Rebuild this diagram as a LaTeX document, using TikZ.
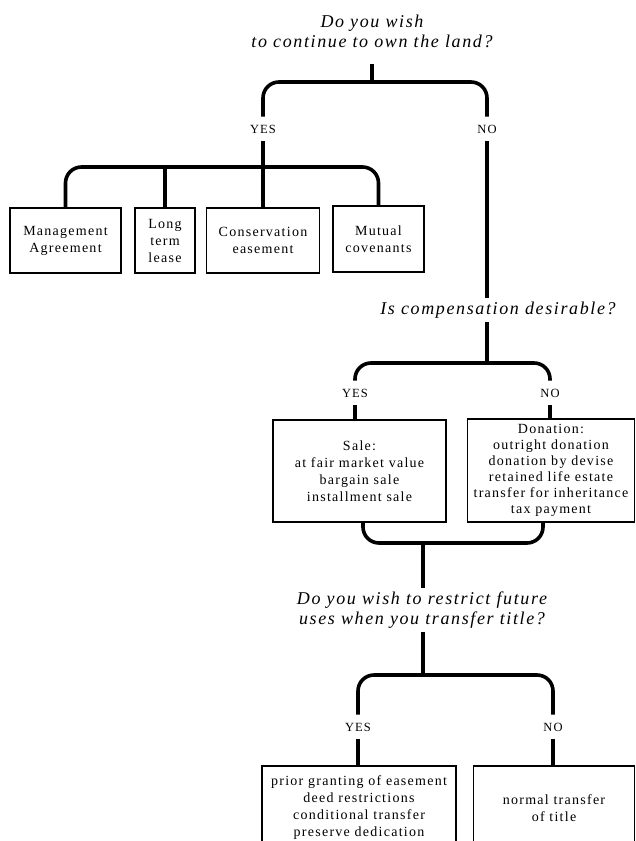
\documentclass[tikz,border=0pt]{standalone}
\usepackage{fontspec}
\setmainfont{Liberation Serif}[LetterSpace=9]

\begin{document}
\begin{tikzpicture}
[x=1pt,y=-1pt,
 quest/.style={font=\fontsize{18}{20}\selectfont\itshape,align=center,inner xsep=2pt,inner ysep=4pt},
 answer/.style={font=\fontsize{12.5}{14}\selectfont,inner xsep=2pt,inner ysep=8pt},
 box/.style={shape=rectangle,draw,line width=1.8pt,align=center,font=\fontsize{14}{17}\selectfont},
 conn/.style={line width=3.6pt,rounded corners=16pt}]

\clip (0,0) rectangle (636,841);

\draw (372,31) node (q1) [quest,inner ysep=16pt] {Do you wish\\to continue to own the land?};
\coordinate (j1) at (372,82);
\draw (263,129) node (y1) [answer] {YES};
\draw (487,129) node (n1) [answer] {NO};

\coordinate (j2) at (263,167);
\draw (65.5,240.5) node (y11) [box,minimum width=111,minimum height=65] {Management\\Agreement};
\draw (165,240.5) node (y12) [box,minimum width=60,minimum height=65] {Long\\term\\lease};
\draw (263,240.5) node (y13) [box,minimum width=113,minimum height=65] {Conservation\\easement};
\draw (378.5,239) node (y14) [box,minimum width=91,minimum height=66] {Mutual\\covenants};

\draw (498,310) node (q2) [quest] {Is compensation desirable?};
\coordinate (j3) at (487,363);
\draw (355,393) node (y2) [answer] {YES};
\draw (550,393) node (n2) [answer] {NO};
\draw (359.5,471) node (y21) [box,minimum width=173,minimum height=102]
	{Sale:\\at fair market value\\bargain sale\\installment sale};
\draw (551,470.5) node (n21) [box,minimum width=167,minimum height=103,font=\fontsize{14}{16}\selectfont]
	{Donation:\\outright donation\\donation by devise\\retained life estate\\transfer for inheritance\\tax payment};

\coordinate (j4) at (423,543);
\draw (422,610) node (q3) [quest] {Do you wish to restrict future\\uses when you transfer title?};
\coordinate (j5) at (423,675);
\draw (358,727) node (y3) [answer] {YES};
\draw (553,727) node (n3) [answer] {NO};
\draw (359,765) node (y31) [box,anchor=north,minimum width=194,minimum height=84]
	{prior granting of easement\\deed restrictions\\conditional transfer\\preserve dedication};
\draw (554,765) node (n31) [box,anchor=north,minimum width=161,minimum height=84]
	{normal transfer\\of title};

\draw [conn] (q1) -- (j1);
\draw [conn] (y1) |- (j1) -| (n1);
\draw [conn] (y1) -- (j2);
\draw [conn] (y11) |- (j2) -| (y14);
\draw [conn] (y12) -- (y12 |- j2);
\draw [conn] (y13) -- (y13 |- j2);

\draw [conn] (n1) -- (n1 |- q2.north);
\draw [conn] (n1 |- q2.south) -- (j3);
\draw [conn] (y2) |- (j3) -| (n2);
\draw [conn] (y2) -- (y2 |- y21.north);
\draw [conn] (n2) -- (n2 |- n21.north);

\draw [conn] ([xshift=3.5]y21.south) |- (j4) -| ([xshift=-8]n21.south);
\draw [conn] (j4) -- (j4 |- q3.north);
\draw [conn] (j4 |- q3.south) -- (j5);
\draw [conn] (y3) |- (j5) -| (n3);
\draw [conn] (y3) -- (y3 |- y31.north);
\draw [conn] (n3) -- (n3 |- n31.north);
\end{tikzpicture}
\end{document}
